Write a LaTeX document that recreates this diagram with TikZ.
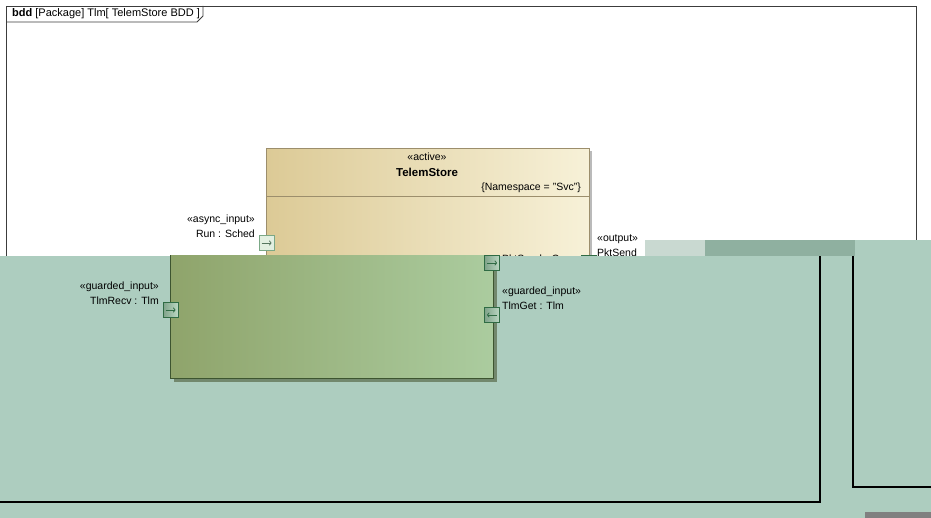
\documentclass[tikz,border=0pt]{standalone}
\usepackage{fontspec}
\setmainfont{Liberation Sans}
\usetikzlibrary{positioning,shadows,arrows.meta}

\definecolor{tealbg}{HTML}{ADCDBF}
\definecolor{tealdark}{HTML}{8FB0A0}
\definecolor{tealnoise}{HTML}{C9D9D1}
\definecolor{framegray}{HTML}{3C3C3C}
\definecolor{tanleft}{HTML}{DCCA96}
\definecolor{tanright}{HTML}{F7F1D8}
\definecolor{tanline}{HTML}{9C8E6C}
\definecolor{greenleft}{HTML}{8FA46B}
\definecolor{greenright}{HTML}{ABCC9F}
\definecolor{greenline}{HTML}{3D5530}
\definecolor{portfill}{HTML}{8DBE9B}
\definecolor{portline}{HTML}{2F6B44}
\definecolor{lightportfill}{HTML}{E2EFE0}
\definecolor{lightportline}{HTML}{7BA886}
\definecolor{bargray}{HTML}{808080}

\begin{document}
\begin{tikzpicture}[
            x=1pt, y=-1pt,
            every node/.style={
                font=\fontsize{10.5}{12}\selectfont,
                inner sep=0pt
            },
            blockbox/.style={
                draw=tanline,
                left color=tanleft,
                right color=tanright,
                anchor=north west,
                drop shadow={shadow xshift=3pt, shadow yshift=-3pt,
                    opacity=0.6, fill=black!45}
            },
            partbox/.style={
                draw=greenline,
                line width=1pt,
                left color=greenleft,
                right color=greenright,
                anchor=north west,
                drop shadow={shadow xshift=3pt, shadow yshift=-3pt,
                    opacity=0.8, fill=greenline!80}
            },
            port/.style={
                draw=portline,
                left color=portfill!80!black!90,
                right color=portfill!60!white,
                line width=0.8pt,
                minimum size=15pt
            },
            lightport/.style={
                draw=lightportline,
                fill=lightportfill,
                line width=0.8pt,
                minimum size=15pt
            },
            portarrow/.style={
                portline,
                line width=0.8pt,
                -{To[length=2.5pt,width=5pt]}
            }
        ]
            \useasboundingbox (0,0) rectangle (931,518);
            \fill[white] (0,0) rectangle (931,256);

            % diagram frame
            \node[draw=framegray, line width=0.8pt, anchor=north west,
                minimum width=910pt, minimum height=300pt] (frame) at (6,6) {};
            \node[anchor=west, font=\fontsize{11}{13}\selectfont] (framelabel)
                at (12,14) {\textbf{bdd} [Package] Tlm[ TelemStore BDD ]};
            \draw[framegray, line width=0.8pt]
                (6,22) -- (197,22) -- (203,16) -- (203,6);

            % TelemStore block
            \node[blockbox, minimum width=323pt, minimum height=140pt]
                (telem) at (266,148) {};
            \draw[tanline] (266,196) -- (589,196);
            \node (active) at (427,157) {«active»};
            \node[font=\fontsize{11.5}{13}\selectfont\bfseries] (telemname)
                at (427,172) {TelemStore};
            \node[anchor=east] (namespace) at (581,188)
                {\{Namespace = "Svc"\}};

            \node[lightport] (run) at (266.5,243) {};
            \draw[portarrow, lightportline!70!black]
                ([xshift=-5pt]run.center) -- ([xshift=5pt]run.center);
            \node[anchor=east] (runstereo) at (255,220) {«async\_input»};
            \node[anchor=east] (runname) at (255,234) {Run : Sched};

            \node[port] (pktport) at (589,263) {};
            \node[anchor=west] (outstereo) at (597,239) {«output»};
            \node[anchor=west] (outname) at (597,253) {PktSend};
            \node[anchor=west] (pktname) at (502,259) {PktSend : Com};

            % lower region
            \fill[tealbg] (0,256) rectangle (931,518);
            \fill[tealnoise] (645,240) rectangle (705,256);
            \fill[tealdark] (705,240) rectangle (855,256);
            \fill[tealbg] (855,240) rectangle (931,256);
            \fill[bargray] (865,512) rectangle (931,518);

            \coordinate (leftend) at (0,502);
            \coordinate (innercorner) at (820,502);
            \coordinate (innertop) at (820,256);
            \draw[line width=1.3pt] (leftend) -- (innercorner) -- (innertop);
            \coordinate (outertop) at (853,256);
            \coordinate (outercorner) at (853,487);
            \coordinate (rightend) at (931,487);
            \draw[line width=1.3pt] (outertop) -- (outercorner) -- (rightend);

            \begin{scope}
                \clip (0,256) rectangle (931,518);
                \node[partbox, minimum width=323pt, minimum height=178pt]
                    (store) at (170,200) {};

                \node[port] (tlmrecv) at (170.5,310) {};
                \draw[portarrow]
                    ([xshift=-5pt]tlmrecv.center) -- ([xshift=5pt]tlmrecv.center);
                \node[port] (pktsend) at (492,263) {};
                \draw[portarrow]
                    ([xshift=-5pt]pktsend.center) -- ([xshift=5pt]pktsend.center);
                \node[port] (tlmget) at (492,315) {};
                \draw[portarrow]
                    ([xshift=5pt]tlmget.center) -- ([xshift=-5pt]tlmget.center);
            \end{scope}

            \node[anchor=east] (recvstereo) at (159,287) {«guarded\_input»};
            \node[anchor=east] (recvname) at (159,301) {TlmRecv : Tlm};
            \node[anchor=west] (getstereo) at (502,292) {«guarded\_input»};
            \node[anchor=west] (getname) at (502,306) {TlmGet : Tlm};

        \end{tikzpicture}
\end{document}
